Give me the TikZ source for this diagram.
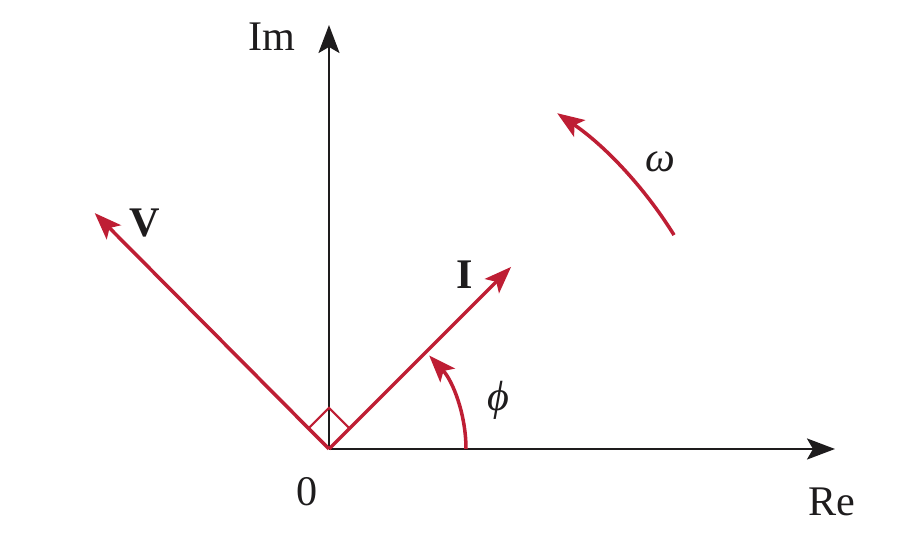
\documentclass[tikz,border=0pt]{standalone}
\usepackage{fontspec}
\setmainfont{Liberation Serif}
\usepackage{tikz}
\usetikzlibrary{arrows.meta}
\definecolor{phasorred}{RGB}{190,30,52}
\definecolor{axisgray}{RGB}{30,28,29}

\begin{document}
\begin{tikzpicture}[
    axis/.style={draw=axisgray, line width=1.4pt, -{Stealth[length=0.56cm, width=0.42cm, inset=0.12cm]}},
    phasor/.style={draw=phasorred, line width=2pt, -{Stealth[length=0.54cm, width=0.4cm, inset=0.12cm]}},
    lbl/.style={font=\fontsize{24}{28}\selectfont, text=axisgray, inner sep=0pt}
]
\useasboundingbox (-6.58,-1.68) rectangle (11.6,8.98);
\coordinate (origin) at (0,0);
\coordinate (imtip) at (0,8.48);
\coordinate (retip) at (10.12,0);
\coordinate (vtip) at (134.8:6.65);
\coordinate (itip) at (45:5.15);

\draw[axis] (origin) -- (imtip);
\draw[axis] (origin) -- (retip);
\draw[phasor] (origin) -- (vtip);
\draw[phasor] (origin) -- (itip);
% right angle between V and I
\draw[phasorred, line width=1.2pt] (45:0.58) -- ++(135:0.58) -- (135:0.58);
% phase angle and rotation
\draw[phasor] (2.74,0) arc[start angle=0, end angle=43, radius=2.74];
\draw[phasor] (31.8:8.12) arc[start angle=31.8, end angle=55.8, radius=8.12];

\node[lbl] (im) at (-1.14,8.24) {Im};
\node[lbl] (re) at (10.06,-1.06) {Re};
\node[lbl] (zero) at (-0.44,-0.86) {0};
\node[lbl] (vlabel) at (-3.68,4.52) {\bfseries V};
\node[lbl] (ilabel) at (2.72,3.48) {\bfseries I};
\node[lbl] (philabel) at (3.38,0.98) {\itshape ϕ};
\node[lbl] (omegalabel) at (6.62,5.74) {\itshape ω};
\end{tikzpicture}
\end{document}
